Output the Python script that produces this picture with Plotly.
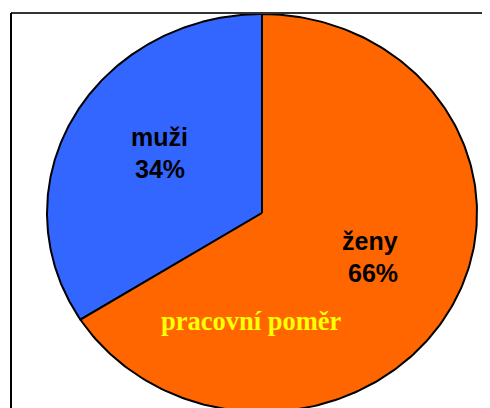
import numpy as np
import plotly.graph_objects as go

labels = ["muži", "ženy"]
values = [34, 66]
colors = ["#3366FF", "#FF6600"]
title_text = "pracovní poměr"

OFF = 8                 # default page body margin
W, H = 490, 408         # figure size (slightly overflows the window, clipped)
CX, CY = 262 - OFF, 213 - OFF   # pie centre in px (figure space)
RX, RY = 215, 199               # ellipse radii in px

fig = go.Figure()

total = sum(values)
start = 90.0
for lab, val, col in zip(labels, values, colors):
    sweep = val / total * 360.0
    ang = np.radians(np.linspace(start, start + sweep, 240))
    xs = np.concatenate([[0], np.cos(ang), [0]])
    ys = np.concatenate([[0], np.sin(ang), [0]])
    fig.add_trace(go.Scatter(x=xs, y=ys, mode="lines", fill="toself",
                             fillcolor=col, line=dict(color="black", width=2),
                             hoverinfo="skip", showlegend=False))
    start += sweep

xr = [-CX / RX, (W - CX) / RX]
yr = [-(H - CY) / RY, CY / RY]
fig.update_xaxes(range=xr, visible=False, fixedrange=True)
fig.update_yaxes(range=yr, visible=False, fixedrange=True)

def px(x):
    return (x - OFF) / W

def py(y):
    return 1 - (y - OFF) / H

ann = []
def add(text, x, y, size, color, family):
    ann.append(dict(text=text, x=px(x), y=py(y), xref="paper", yref="paper",
                    showarrow=False, xanchor="center", yanchor="middle",
                    font=dict(size=size, color=color, family=family)))

sans = "Arial, Liberation Sans, sans-serif"
serif = "Times New Roman, Liberation Serif, serif"
add(f"<b>{labels[0]}</b>", 159, 137, 25, "black", sans)
add(f"<b>{values[0]}%</b>", 160, 169, 25, "black", sans)
add(f"<b>{labels[1]}</b>", 370, 241, 25, "black", sans)
add(f"<b>{values[1]}%</b>", 373, 273, 25, "black", sans)
add(f"<b>{title_text}</b>", 251, 321, 26.5, "#FFFF00", serif)

shapes = [
    dict(type="line", xref="paper", yref="paper", x0=px(11), x1=px(510),
         y0=py(13), y1=py(13), line=dict(color="#333333", width=2)),
    dict(type="line", xref="paper", yref="paper", x0=px(11), x1=px(11),
         y0=py(13), y1=py(430), line=dict(color="black", width=2)),
]

fig.update_layout(width=W, height=H, margin=dict(l=0, r=0, t=0, b=0),
                  paper_bgcolor="white", plot_bgcolor="white",
                  annotations=ann, shapes=shapes, showlegend=False)

fig.write_html("out.html", config={"displayModeBar": False})
